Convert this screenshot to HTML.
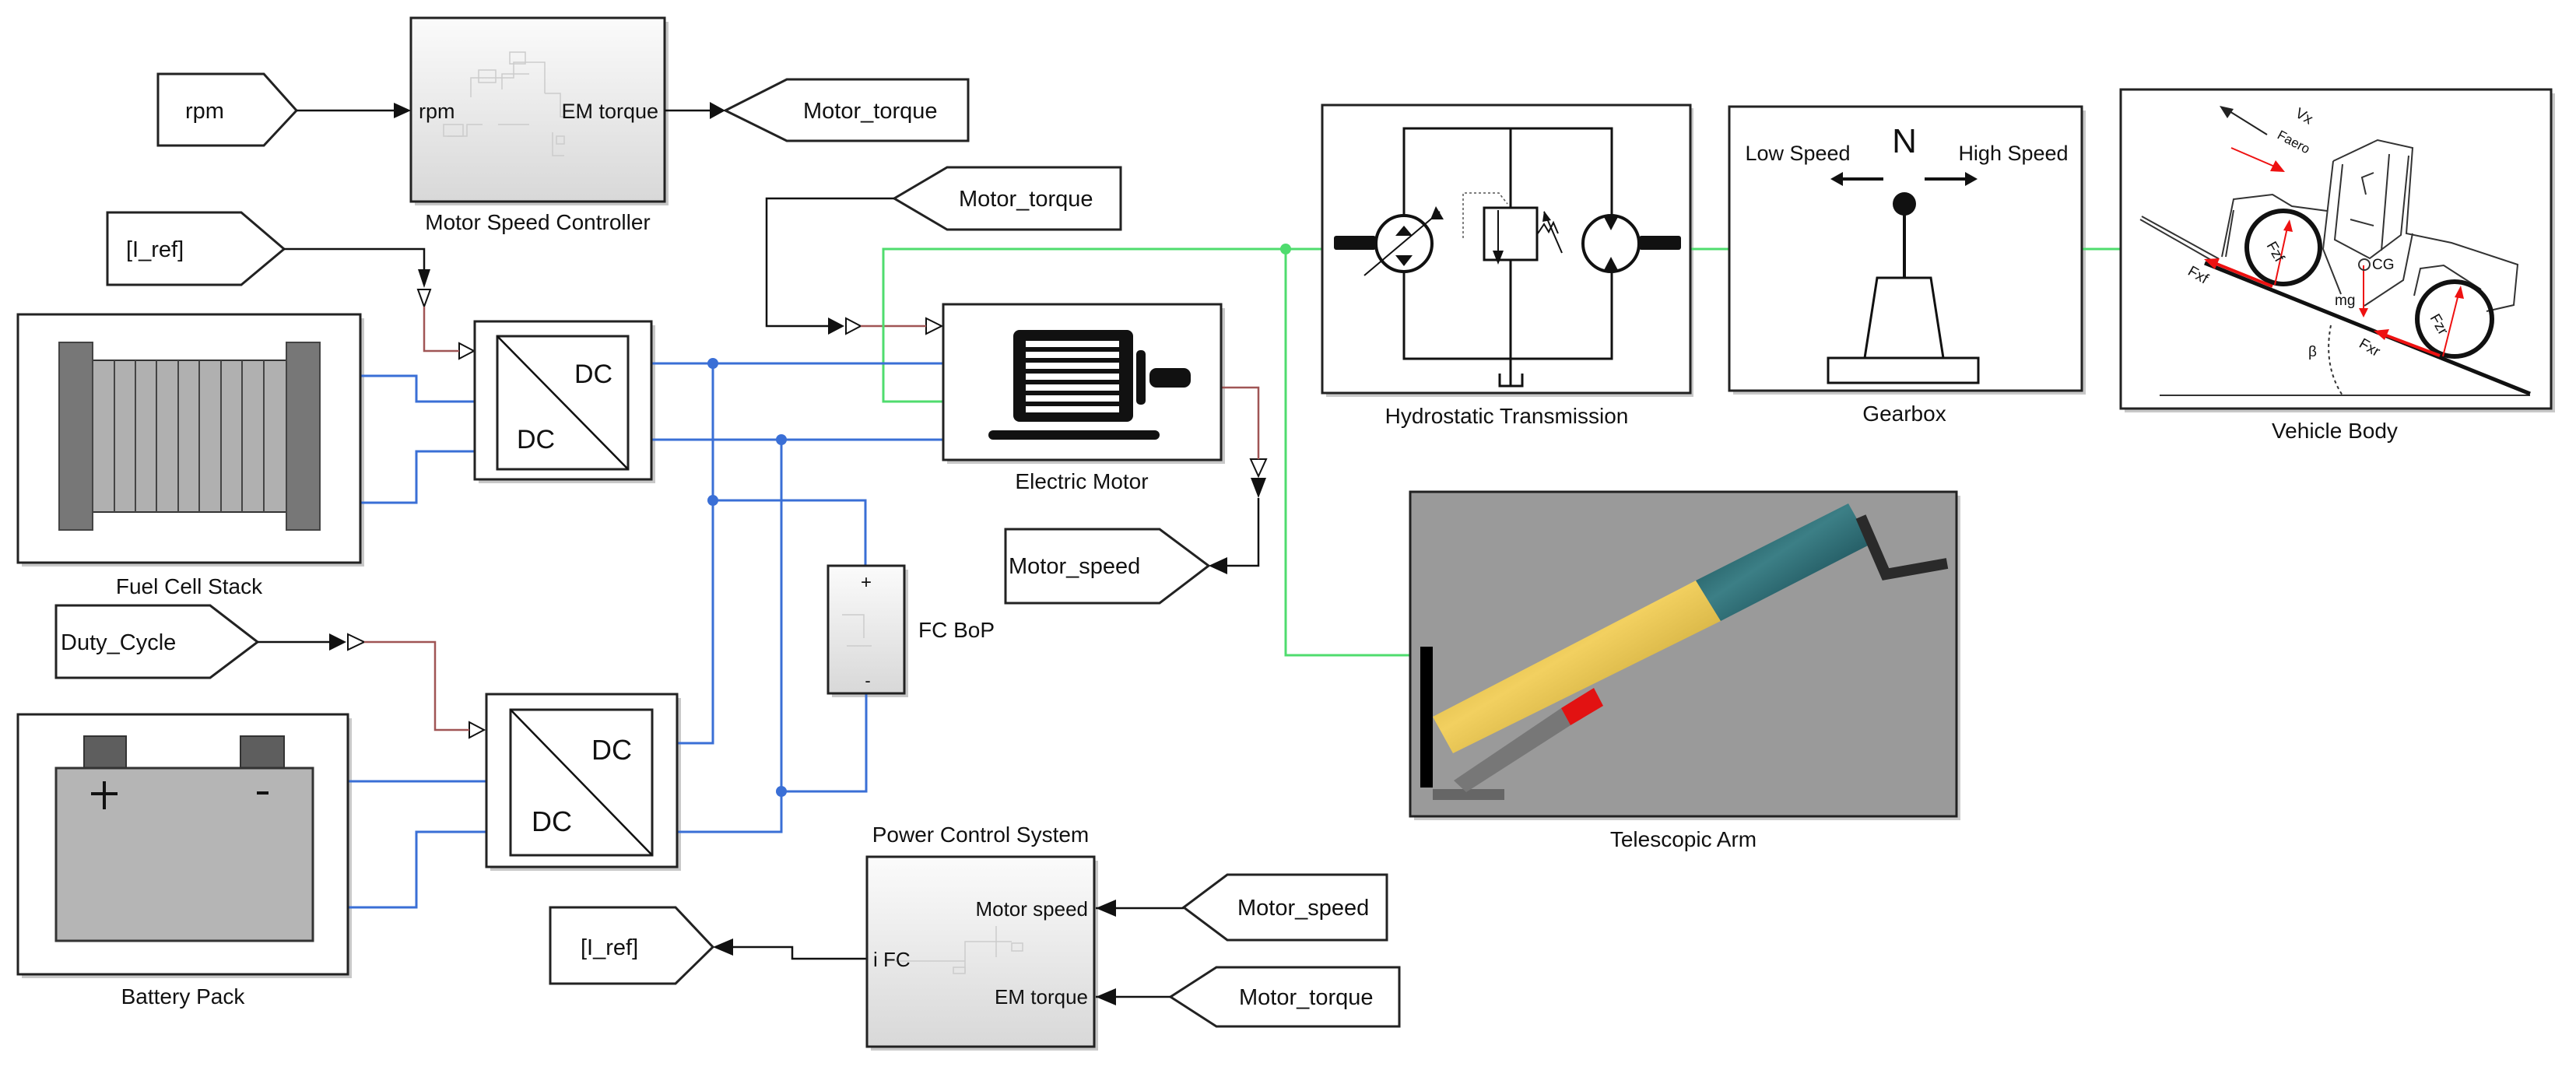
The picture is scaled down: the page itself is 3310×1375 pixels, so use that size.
<!DOCTYPE html>
<html><head><meta charset="utf-8"><style>
html,body{margin:0;padding:0;background:#fff;}
svg{display:block;}
text{font-family:"Liberation Sans",Arial,sans-serif;fill:#111;}
</style></head><body>
<svg width="3310" height="1375" viewBox="0 0 3310 1375" xmlns="http://www.w3.org/2000/svg">
<defs>
<linearGradient id="sg" x1="0" y1="0" x2="0" y2="1"><stop offset="0" stop-color="#fbfbfb"/><stop offset="1" stop-color="#d8d8d8"/></linearGradient>
<linearGradient id="yel" x1="0" y1="0" x2="1" y2="1"><stop offset="0" stop-color="#b8941e"/><stop offset="0.45" stop-color="#f2d060"/><stop offset="1" stop-color="#a98718"/></linearGradient>
<linearGradient id="teal" x1="0" y1="0" x2="1" y2="1"><stop offset="0" stop-color="#0a3a40"/><stop offset="0.45" stop-color="#3c7f86"/><stop offset="1" stop-color="#06303a"/></linearGradient>
</defs>

<!-- shadows -->
<g fill="#c8c8c8">
<rect x="533" y="28" width="326" height="236"/>
<rect x="28" y="409" width="440" height="319"/>
<rect x="615" y="418" width="227" height="203"/>
<rect x="630" y="897" width="245" height="222"/>
<rect x="28" y="923" width="424" height="334"/>
<rect x="1217" y="396" width="357" height="200"/>
<rect x="1069" y="732" width="98" height="164"/>
<rect x="1119" y="1106" width="292" height="244"/>
<rect x="1704" y="139" width="472" height="371"/>
<rect x="2227" y="142" width="453" height="365"/>
<rect x="2730" y="120" width="553" height="410"/>
<rect x="1817" y="637" width="702" height="417"/>
</g>

<!-- tags -->
<g fill="#fff" stroke="#222" stroke-width="3">
<polygon points="203,95 339,95 381,142 339,187 203,187"/>
<polygon points="932,142 1011,102 1244,102 1244,181 1011,181"/>
<polygon points="1149,255 1217,215 1440,215 1440,295 1217,295"/>
<polygon points="138,273 310,273 365,320 310,366 138,366"/>
<polygon points="72,778 270,778 331,825 270,871 72,871"/>
<polygon points="1292,680 1490,680 1553,727 1490,775 1292,775"/>
<polygon points="707,1166 868,1166 916,1217 868,1264 707,1264"/>
<polygon points="1521,1166 1577,1124 1782,1124 1782,1208 1577,1208"/>
<polygon points="1504,1281 1563,1243 1798,1243 1798,1319 1563,1319"/>
</g>
<g font-size="29">
<text x="238" y="152">rpm</text>
<text x="1032" y="152">Motor_torque</text>
<text x="1232" y="265">Motor_torque</text>
<text x="162" y="330">[I_ref]</text>
<text x="78" y="835">Duty_Cycle</text>
<text x="1296" y="737">Motor_speed</text>
<text x="746" y="1227">[I_ref]</text>
<text x="1590" y="1176">Motor_speed</text>
<text x="1592" y="1291">Motor_torque</text>
</g>

<!-- Motor Speed Controller -->
<rect x="528" y="23" width="326" height="236" fill="url(#sg)" stroke="#222" stroke-width="3"/>
<g stroke="#ccc" stroke-width="1.5" fill="none">
<path d="M605 125 V100 H660 V80 H700 V120 M645 115 V95 H680 M700 120 H720 V150 H760 M640 160 H680 M575 175 H600 V160 H620 M710 170 V200 H725"/>
<rect x="655" y="67" width="20" height="15"/><rect x="615" y="90" width="22" height="16"/><rect x="570" y="160" width="25" height="15"/><rect x="715" y="175" width="10" height="10"/>
</g>
<text x="538" y="152" font-size="27">rpm</text>
<text x="846" y="152" font-size="27" text-anchor="end">EM torque</text>
<text x="691" y="295" font-size="28" text-anchor="middle">Motor Speed Controller</text>

<!-- signal lines -->
<g stroke="#111" stroke-width="2.5" fill="none">
<path d="M381 142 H506"/>
<path d="M854 142 H912"/>
<path d="M1149 255 H985 V419 H1064"/>
<path d="M365 320 H545 V346"/>
<path d="M331 825 H423"/>
<path d="M1617 640 V727 H1577"/>
<path d="M1408 1167 H1521"/>
<path d="M1408 1281 H1504"/>
<path d="M942 1217 H1018 V1232 H1114"/>
</g>
<g fill="#111">
<polygon points="506,132 528,142 506,152"/>
<polygon points="912,131 932,142 912,153"/>
<polygon points="1064,408 1085,419 1064,430"/>
<polygon points="537,346 553,346 545,370"/>
<polygon points="423,814 445,825 423,836"/>
<polygon points="1607,614 1627,614 1617,640"/>
<polygon points="1577,716 1553,727 1577,738"/>
<polygon points="1434,1156 1408,1167 1434,1178"/>
<polygon points="1434,1270 1408,1281 1434,1292"/>
<polygon points="942,1206 916,1217 942,1228"/>
</g>
<g fill="#fff" stroke="#111" stroke-width="2">
<polygon points="1087,409 1106,419 1087,429"/>
<polygon points="1190,409 1210,419 1190,429"/>
<polygon points="537,372 553,372 545,394"/>
<polygon points="590,441 609,451 590,461"/>
<polygon points="447,815 468,825 447,835"/>
<polygon points="603,928 622,938 603,948"/>
<polygon points="1607,590 1627,590 1617,612"/>
</g>
<g stroke="#a05555" stroke-width="2.5" fill="none">
<path d="M1106 419 H1190"/>
<path d="M545 394 V451 H590"/>
<path d="M468 825 H559 V938 H603"/>
<path d="M1569 498 H1617 V590"/>
</g>

<!-- green lines -->
<g stroke="#4fdc6e" stroke-width="3" fill="none">
<path d="M1700 320 H1135 V516 H1212"/>
<path d="M1652 320 V842 H1812"/>
<path d="M2171 320 H2222"/>
<path d="M2675 320 H2725"/>
</g>
<circle cx="1652" cy="320" r="7" fill="#4fdc6e"/>

<!-- blue lines -->
<g stroke="#3a6fd6" stroke-width="3" fill="none">
<path d="M463 483 H535 V516 H610"/>
<path d="M463 646 H535 V580 H610"/>
<path d="M837 467 H1212"/>
<path d="M837 565 H1212"/>
<path d="M916 467 V955 H870"/>
<path d="M1004 565 V1069 H870"/>
<path d="M916 643 H1112 V727"/>
<path d="M1113 891 V1017 H1004"/>
<path d="M447 1004 H625"/>
<path d="M447 1166 H535 V1069 H625"/>
</g>
<g fill="#3a6fd6">
<circle cx="916" cy="467" r="7"/><circle cx="1004" cy="565" r="7"/><circle cx="916" cy="643" r="7"/><circle cx="1004" cy="1017" r="7"/>
</g>

<!-- Fuel cell stack -->
<rect x="23" y="404" width="440" height="319" fill="#fff" stroke="#222" stroke-width="3"/>
<rect x="463" y="0" width="0" height="0"/>
<rect x="119" y="463" width="249" height="195" fill="#b0b0b0" stroke="#333" stroke-width="2"/>
<g stroke="#444" stroke-width="2">
<path d="M147 463V658M174 463V658M201 463V658M229 463V658M256 463V658M284 463V658M311 463V658M339 463V658"/>
</g>
<rect x="76" y="440" width="43" height="241" fill="#777" stroke="#444" stroke-width="2"/>
<rect x="368" y="440" width="43" height="241" fill="#777" stroke="#444" stroke-width="2"/>
<text x="243" y="763" font-size="28" text-anchor="middle">Fuel Cell Stack</text>

<!-- DC/DC 1 -->
<rect x="610" y="413" width="227" height="203" fill="#fff" stroke="#222" stroke-width="3"/>
<rect x="639" y="432" width="168" height="171" fill="#fff" stroke="#222" stroke-width="3"/>
<line x1="639" y1="432" x2="807" y2="603" stroke="#111" stroke-width="2.5"/>
<text x="738" y="492" font-size="34">DC</text>
<text x="664" y="576" font-size="34">DC</text>

<!-- DC/DC 2 -->
<rect x="625" y="892" width="245" height="222" fill="#fff" stroke="#222" stroke-width="3"/>
<rect x="656" y="912" width="182" height="187" fill="#fff" stroke="#222" stroke-width="3"/>
<line x1="656" y1="912" x2="838" y2="1099" stroke="#111" stroke-width="2.5"/>
<text x="760" y="976" font-size="36">DC</text>
<text x="683" y="1068" font-size="36">DC</text>

<!-- Battery -->
<rect x="23" y="918" width="424" height="334" fill="#fff" stroke="#222" stroke-width="3"/>
<rect x="108" y="946" width="54" height="41" fill="#5e5e5e" stroke="#333" stroke-width="2"/>
<rect x="309" y="946" width="56" height="41" fill="#5e5e5e" stroke="#333" stroke-width="2"/>
<rect x="72" y="987" width="330" height="222" fill="#b5b5b5" stroke="#333" stroke-width="3"/>
<path d="M134 1004 V1040 M117 1020 H151" stroke="#111" stroke-width="4"/>
<path d="M330 1019 H345" stroke="#111" stroke-width="4"/>
<text x="235" y="1290" font-size="28" text-anchor="middle">Battery Pack</text>

<!-- Electric Motor -->
<rect x="1212" y="391" width="357" height="200" fill="#fff" stroke="#222" stroke-width="3"/>
<rect x="1302" y="424" width="154" height="118" rx="8" fill="#111"/>
<g fill="#fff"><rect x="1318" y="438" width="120" height="8"/><rect x="1318" y="452" width="120" height="8"/><rect x="1318" y="466" width="120" height="8"/><rect x="1318" y="480" width="120" height="8"/><rect x="1318" y="494" width="120" height="8"/><rect x="1318" y="508" width="120" height="8"/><rect x="1318" y="522" width="120" height="8"/></g>
<rect x="1460" y="450" width="12" height="70" rx="5" fill="#111"/>
<rect x="1477" y="473" width="53" height="25" rx="9" fill="#111"/>
<rect x="1270" y="553" width="220" height="12" rx="6" fill="#111"/>
<text x="1390" y="628" font-size="28" text-anchor="middle">Electric Motor</text>

<!-- FC BoP -->
<rect x="1064" y="727" width="98" height="164" fill="url(#sg)" stroke="#222" stroke-width="3"/>
<text x="1113" y="756" font-size="24" text-anchor="middle">+</text>
<text x="1115" y="882" font-size="22" text-anchor="middle">-</text>
<g stroke="#ccc" stroke-width="1.5" fill="none"><path d="M1082 790 H1110 V820 M1088 830 H1120"/></g>
<text x="1180" y="819" font-size="28">FC BoP</text>

<!-- Power Control System -->
<rect x="1114" y="1101" width="292" height="244" fill="url(#sg)" stroke="#222" stroke-width="3"/>
<g stroke="#ccc" stroke-width="1.5" fill="none"><path d="M1150 1235 H1240 V1210 H1300 M1240 1215 V1250 M1280 1190 V1230"/><rect x="1225" y="1243" width="15" height="8"/><rect x="1300" y="1212" width="14" height="10"/></g>
<text x="1398" y="1177" font-size="26" text-anchor="end">Motor speed</text>
<text x="1122" y="1242" font-size="26">i FC</text>
<text x="1398" y="1290" font-size="26" text-anchor="end">EM torque</text>
<text x="1260" y="1082" font-size="28" text-anchor="middle">Power Control System</text>

<!-- Hydrostatic transmission -->
<rect x="1699" y="135" width="473" height="370" fill="#fff" stroke="#222" stroke-width="3"/>
<g stroke="#111" stroke-width="3" fill="none">
<rect x="1804" y="165" width="267" height="296"/>
<line x1="1941" y1="165" x2="1941" y2="495"/>
<path d="M1927 480 V496 H1956 V480"/>
<rect x="1907" y="267" width="68" height="67" fill="#fff"/>
<line x1="1925" y1="270" x2="1925" y2="335" stroke-width="2"/>
<circle cx="1804" cy="313" r="36" fill="#fff" stroke-width="4"/>
<circle cx="2070" cy="313" r="36" fill="#fff" stroke-width="4"/>
<line x1="1753" y1="354" x2="1850" y2="272" stroke-width="2"/>
<path d="M1976 300 l8 -12 l6 10 l6 -12 l6 14" stroke-width="2"/>
<line x1="1984" y1="272" x2="2007" y2="325" stroke-width="2"/>
</g>
<path d="M1880 306 V248 H1926 L1937 262" stroke="#555" stroke-width="1.5" stroke-dasharray="3,3" fill="none"/>
<g fill="#111">
<polygon points="1845,265 1855,282 1838,282"/>
<polygon points="1793,303 1815,303 1804,290"/>
<polygon points="1793,328 1815,328 1804,342"/>
<polygon points="2060,277 2080,277 2070,296"/>
<polygon points="2060,349 2080,349 2070,330"/>
<polygon points="1918,322 1932,322 1925,340"/>
<polygon points="1984,271 1993,283 1982,285"/>
<rect x="1714" y="303" width="54" height="18" rx="3"/>
<rect x="2106" y="303" width="54" height="18" rx="3"/>
</g>
<text x="1936" y="544" font-size="28" text-anchor="middle">Hydrostatic Transmission</text>

<!-- Gearbox -->
<rect x="2222" y="137" width="453" height="365" fill="#fff" stroke="#222" stroke-width="3"/>
<text x="2447" y="196" font-size="44" text-anchor="middle">N</text>
<text x="2310" y="206" font-size="27" text-anchor="middle">Low Speed</text>
<text x="2587" y="206" font-size="27" text-anchor="middle">High Speed</text>
<g stroke="#111" stroke-width="4"><line x1="2365" y1="230" x2="2420" y2="230"/><line x1="2473" y1="230" x2="2528" y2="230"/><line x1="2447" y1="265" x2="2447" y2="357"/></g>
<polygon points="2352,230 2368,221 2368,239" fill="#111"/>
<polygon points="2541,230 2525,221 2525,239" fill="#111"/>
<ellipse cx="2447" cy="262" rx="15" ry="15" fill="#111"/>
<polygon points="2412,357 2481,357 2497,460 2396,460" fill="#fff" stroke="#111" stroke-width="3"/>
<rect x="2349" y="460" width="193" height="32" fill="#fff" stroke="#111" stroke-width="3"/>
<text x="2447" y="541" font-size="28" text-anchor="middle">Gearbox</text>

<!-- Vehicle body -->
<rect x="2725" y="115" width="553" height="410" fill="#fff" stroke="#222" stroke-width="3"/>
<g stroke="#333" stroke-width="2" fill="none">
<path d="M2775 508 H3251"/>
<path d="M2995 418 Q2985 470 3010 508" stroke-dasharray="4,4"/>
<path d="M2998 207 L3055 180 L3100 190 L3092 300 L3150 312 L3235 340 L3230 392 L3195 400 M3100 300 L3088 360 L3038 393 M2998 207 L2985 320 L3008 378 M3010 211 L3000 308 L3045 332 L3085 302 L3095 200 M3070 198 L3060 322 M2855 330 L2870 256 L2920 250 L2945 265 L2990 271 M2870 270 L2860 330 M2750 282 L2848 338 L2850 332 L2752 278 M3188 372 L3140 341 L3110 345 L3102 380 M3020 282 L3050 290 M3040 250 L3035 228 L3050 222"/>
</g>
<line x1="2833" y1="338" x2="3251" y2="506" stroke="#111" stroke-width="5"/>
<circle cx="2934" cy="318" r="47" fill="none" stroke="#111" stroke-width="6"/>
<circle cx="3154" cy="410" r="48" fill="none" stroke="#111" stroke-width="6"/>
<g stroke="#e11" stroke-width="2" fill="none">
<line x1="2923" y1="366" x2="2940" y2="288"/>
<line x1="3139" y1="458" x2="3160" y2="374"/>
<line x1="3037" y1="341" x2="3037" y2="403"/>
<line x1="2867" y1="190" x2="2925" y2="215"/>
<line x1="2920" y1="368" x2="2838" y2="335" stroke-width="4"/>
<line x1="3135" y1="457" x2="3058" y2="428" stroke-width="4"/>
</g>
<g fill="#e11">
<polygon points="2942,282 2946,298 2934,296"/><polygon points="3162,367 3166,384 3154,382"/>
<polygon points="3031,396 3043,396 3037,408"/><polygon points="2936,221 2917,220 2924,206"/>
<polygon points="2832,333 2852,332 2846,346"/><polygon points="3050,425 3070,423 3064,437"/>
</g>
<line x1="2860" y1="140" x2="2913" y2="173" stroke="#222" stroke-width="2"/>
<polygon points="2852,136 2870,140 2862,152" fill="#222"/>
<circle cx="3038" cy="340" r="7" fill="none" stroke="#333" stroke-width="2"/>
<g font-size="19" fill="#333">
<text x="2948" y="149" transform="rotate(30 2948 149)">Vx</text>
<text x="2925" y="177" transform="rotate(28 2925 177)" font-size="17">Faero</text>
<text x="2912" y="315" transform="rotate(60 2912 315)">Fzf</text>
<text x="3122" y="408" transform="rotate(60 3122 408)">Fzr</text>
<text x="3048" y="346">CG</text>
<text x="3000" y="392">mg</text>
<text x="2966" y="458">β</text>
<text x="2810" y="352" transform="rotate(30 2810 352)">Fxf</text>
<text x="3030" y="445" transform="rotate(30 3030 445)">Fxr</text>
</g>
<text x="3000" y="563" font-size="28" text-anchor="middle">Vehicle Body</text>

<!-- Telescopic arm -->
<rect x="1812" y="632" width="702" height="417" fill="#9a9a9a" stroke="#222" stroke-width="3"/>
<rect x="1825" y="831" width="16" height="181" fill="#000"/>
<rect x="1841" y="1014" width="92" height="14" fill="#666"/>
<polygon points="1868,1003 2006,910 2018,932 1884,1018" fill="#777"/>
<polygon points="2006,910 2048,884 2060,907 2018,932" fill="#e21212"/>
<polygon points="1841,921 2179,746 2211,798 1867,968" fill="url(#yel)"/>
<polygon points="2179,746 2375,647 2404,699 2211,798" fill="url(#teal)"/>
<polyline points="2391,664 2423,738 2502,724" fill="none" stroke="#2a2a2a" stroke-width="14"/>
<text x="2163" y="1088" font-size="28" text-anchor="middle">Telescopic Arm</text>
</svg>
</body></html>
